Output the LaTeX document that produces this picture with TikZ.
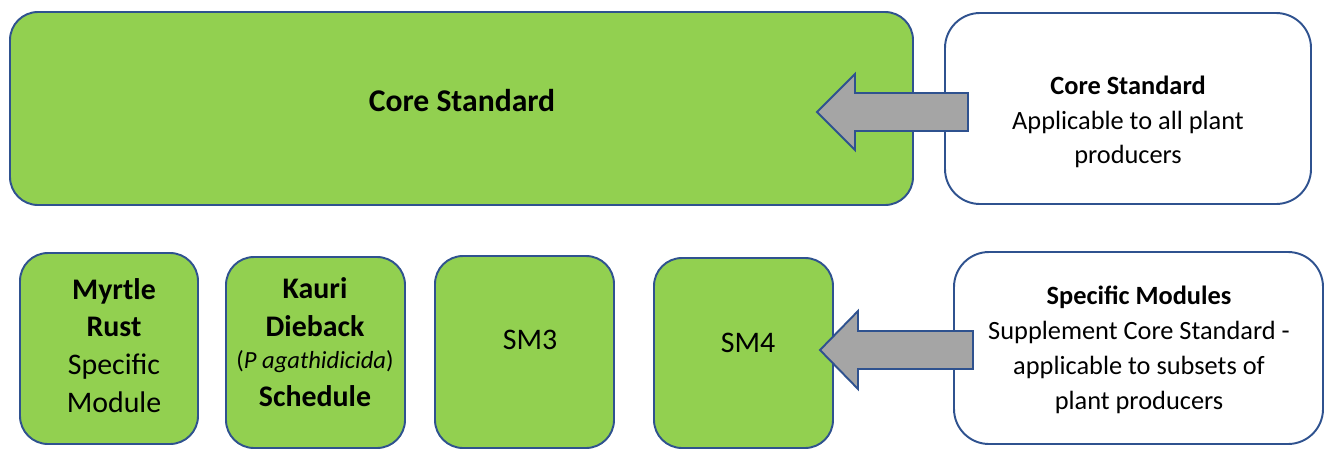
\documentclass[tikz,border=0pt]{standalone}
\usepackage{fontspec}
\setmainfont{Carlito}
\usepackage{tikz}
\definecolor{boxgreen}{HTML}{92D050}
\definecolor{boxblue}{HTML}{2F528F}
\definecolor{arrowgrey}{HTML}{A5A5A5}
\tikzset{
    every node/.style={inner sep=0mm, align=center},
    greenbox/.style={draw=boxblue, fill=boxgreen, line width=1.1pt, rounded corners=0.56cm},
    infobox/.style={draw=boxblue, fill=white, line width=1.1pt, rounded corners=0.7cm},
    bigarrow/.style={draw=boxblue, fill=arrowgrey, line width=1.1pt, line join=miter}
}
\newcommand{\bodyfont}{\fontsize{15}{19.8}\selectfont}
\newcommand{\modfont}{\fontsize{17}{21.5}\selectfont}

\begin{document}
\begin{tikzpicture}
    \useasboundingbox (0cm, 0cm) rectangle (26.5cm, -9cm);

    \node (core) at (9.23cm, -2.17cm) [greenbox, minimum width=18.06cm, minimum height=3.86cm] {};
    \node (coreinfo) at (22.56cm, -2.17cm) [infobox, minimum width=7.32cm, minimum height=3.82cm] {};

    \node (myrtle) at (2.18cm, -6.97cm) [greenbox, minimum width=3.56cm, minimum height=3.82cm] {};
    \node (kauri) at (6.31cm, -7.05cm) [greenbox, minimum width=3.58cm, minimum height=3.82cm] {};
    \node (smthree) at (10.49cm, -7.04cm) [greenbox, minimum width=3.58cm, minimum height=3.84cm] {};
    \node (smfour) at (14.87cm, -7.06cm) [greenbox, minimum width=3.58cm, minimum height=3.80cm] {};
    \node (modinfo) at (22.77cm, -6.96cm) [infobox, minimum width=7.38cm, minimum height=3.84cm] {};

    % block arrows
    \draw[bigarrow] (16.34cm, -2.24cm) -- (17.10cm, -1.48cm) -- (17.10cm, -1.86cm)
        -- (19.36cm, -1.86cm) -- (19.36cm, -2.62cm) -- (17.10cm, -2.62cm)
        -- (17.10cm, -3.00cm) -- cycle;
    \draw[bigarrow] (16.40cm, -7.00cm) -- (17.16cm, -6.22cm) -- (17.16cm, -6.62cm)
        -- (19.46cm, -6.62cm) -- (19.46cm, -7.38cm) -- (17.16cm, -7.38cm)
        -- (17.16cm, -7.78cm) -- cycle;

    % texts
    \node (coretitle) at (9.24cm, -2.02cm) [font=\fontsize{18}{22}\selectfont\bfseries] {Core Standard};
    \node (coretext) at (22.56cm, -2.44cm) [font=\bodyfont]
        {\textbf{Core Standard}\\Applicable to all plant\\producers};

    \node (myrtletext) at (2.28cm, -6.91cm) [font=\modfont]
        {\textbf{Myrtle}\\\textbf{Rust}\\Specific\\Module};
    \node (kauritext) at (6.30cm, -6.84cm) [font=\modfont]
        {\textbf{Kauri}\\\textbf{Dieback}\\[-3pt]{\fontsize{14}{17}\selectfont(\textit{P agathidicida})}\\\textbf{Schedule}};
    \node (smthreetext) at (10.60cm, -6.80cm) [font=\modfont] {SM3};
    \node (smfourtext) at (14.96cm, -6.86cm) [font=\modfont] {SM4};

    \node (modtext) at (22.78cm, -7.00cm) [font=\bodyfont]
        {\textbf{Specific Modules}\\Supplement Core Standard -\\applicable to subsets of\\plant producers};
\end{tikzpicture}
\end{document}
